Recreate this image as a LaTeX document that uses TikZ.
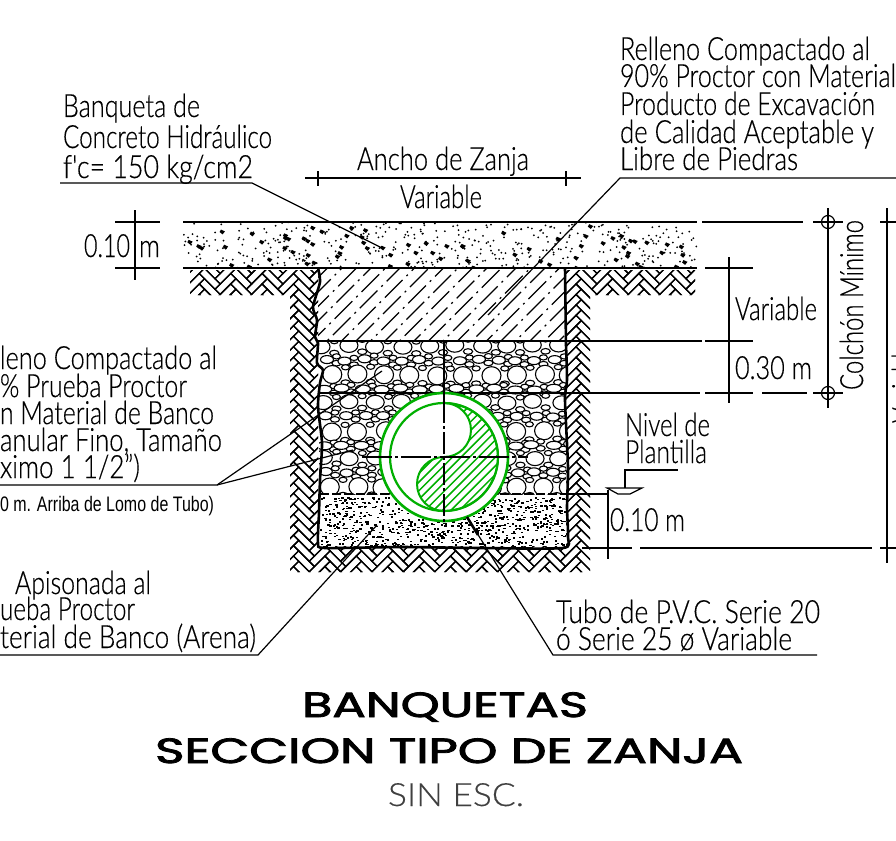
\documentclass[tikz,border=0pt]{standalone}
\usepackage{fontspec}
\usepackage{graphicx}
\setmainfont{Liberation Sans}
\newfontfamily\lightfont[FakeBold=0.4]{Lato Light}
\newfontfamily\titlefont[FakeBold=2.2]{Poppins}
\definecolor{pipegreen}{RGB}{0,175,0}
\newcommand{\cadfit}[2]{\resizebox{#1pt}{\height}{#2}}
\tikzset{
  cad/.style={inner sep=0pt,outer sep=0pt,anchor=base west,font=\lightfont\fontsize{32}{32}\selectfont,text=black},
  cadsmall/.style={inner sep=0pt,outer sep=0pt,anchor=base west,font=\fontsize{21}{21}\selectfont,text=black},
  titletext/.style={inner sep=0pt,outer sep=0pt,anchor=base west,font=\titlefont\fontsize{35}{35}\selectfont},
  thinl/.style={line width=1.2pt,black},
  thickl/.style={line width=2.6pt,black},
  medl/.style={line width=1.6pt,black},
  pebble/.style={draw=black,line width=1.1pt,fill=white},
}
\begin{document}
\begin{tikzpicture}[x=1pt,y=-1pt]
\useasboundingbox (0,0) rectangle (896,840);
\clip (0,0) rectangle (896,840);
\fill[white] (0,0) rectangle (896,840);
\pgfmathsetseed{4217}

% --- soil herringbone
\begin{scope}
\clip (190,270) rectangle (318,295) (290,270) rectangle (318,572)
      (290,546) rectangle (590,572) (566,270) rectangle (590,572) (566,270) rectangle (695,295);
\begin{scope}[shift={(440,420)},rotate=45,line width=1.3pt,x=7.4pt,y=7.4pt]
\foreach \r in {-52,...,52}{
  \foreach \k in {-17,...,17}{
    \pgfmathtruncatemacro{\cx}{\r+6*\k}
    \ifnum\cx>-53 \ifnum\cx<53
      \draw (\cx,\r) rectangle ++(3,1);
      \draw (\cx+3,\r-2) rectangle ++(1,3);
    \fi\fi
  }
}
\end{scope}
\end{scope}

% --- concrete slab stipple
\begin{scope}
\clip (183,222) rectangle (697,268);
\foreach \i in {1,...,430}{
  \pgfmathsetmacro{\px}{183+514*rnd}
  \pgfmathsetmacro{\py}{222+46*rnd}
  \fill[black] (\px,\py) circle (1pt);
}
\foreach \i in {1,...,75}{
  \pgfmathsetmacro{\px}{183+514*rnd}
  \pgfmathsetmacro{\py}{224+42*rnd}
  \fill[black] (\px,\py) -- ++(4,1.8) -- ++(-2.4,3) -- ++(-3,-2.4) -- cycle;
}
\end{scope}

% --- compacted fill hatch
\begin{scope}
\clip (318,268) rectangle (566,341);
\foreach \i in {0,...,24}{
  \pgfmathsetmacro{\sx}{236+14.5*\i}
  \pgfmathsetmacro{\ph}{mod(23*\i,38)}
  \draw[line width=1.2pt,dash pattern=on 25pt off 5.5pt on 2pt off 5.5pt,dash phase=\ph pt] (\sx,345) -- ++(80,-80);
}
\end{scope}

% --- gravel
\begin{scope}
\clip (319,341) rectangle (566,494);
\foreach \ry/\rw/\ra/\rb/\off in {346/26.5/7.5/7/0,360/19/5/4/4,375/26.5/8/9/9,389/19/6/4/2,402/26.5/7.5/7/0,416/19/5/4/4,431/26.5/8/9/9,445/19/6/4/2,458/26.5/7.5/7/0,472/19/5/4/4,487/26.5/8/9/9}{
  \foreach \c in {0,...,13}{
    \pgfmathsetmacro{\gx}{322+\off+\rw*\c+2*rand}
    \pgfmathsetmacro{\gy}{\ry+1.2*rand}
    \draw[pebble] (\gx+\rw/2,\gy+\rb*0.9) ellipse [x radius=4.6pt,y radius=2.8pt];
    \draw[pebble] (\gx+\rw/2,\gy-\rb*0.8) ellipse [x radius=4pt,y radius=2.6pt];
    \draw[pebble] (\gx,\gy) ellipse [x radius=\ra pt+1.5pt,y radius=\rb pt];
  }
}
\end{scope}

% --- sand
\begin{scope}
\clip (320,497) rectangle (566,546);
\foreach \i in {1,...,820}{
  \pgfmathsetmacro{\px}{320+246*rnd}
  \pgfmathsetmacro{\py}{497+49*rnd}
  \fill[black] (\px,\py) rectangle ++(2.2,1.5);
}
\end{scope}

% --- levels
\draw[medl] (183,222) -- (697,222);
\draw[medl] (183,268) -- (697,268);
\draw[thinl] (318,341) -- (702,341);
\draw[thinl] (318,393) -- (700,393);
\draw[thinl,dash pattern=on 9pt off 3pt] (320,494) -- (566,494);
\draw[thinl] (566,494) -- (608,494);

% --- trench outline
\draw[thickl] plot[smooth,tension=0.4] coordinates {(318,268)(320,282)(313,307)(317,320)(315,337)(318,343)(317,363)(323,370)(320,383)(318,407)(322,443)(320,480)(319,513)(318,543)(325,548)(400,547)(480,548)(563,548)(568,537)(567,507)(568,467)(565,400)(567,380)(566,345)};
\draw[thickl] (566,345) -- (565,268);

% --- pipe
\begin{scope}[shift={(444,457)},x=1pt,y=1pt]
  \fill[white] (0,0) circle (64pt);
  \begin{scope}
    \clip (0,54) arc[start angle=90,end angle=-90,radius=54pt]
          arc[start angle=270,end angle=90,radius=27pt]
          arc[start angle=-90,end angle=90,radius=27pt] -- cycle;
    \foreach \h in {-13,...,13}{
      \draw[pipegreen,line width=1.5pt] (-70+8.6*\h,-70) -- ++(140,140);
    }
  \end{scope}
  \draw[pipegreen,line width=2pt] (0,54) arc[start angle=90,end angle=-90,radius=54pt]
          arc[start angle=270,end angle=90,radius=27pt]
          arc[start angle=-90,end angle=90,radius=27pt] -- cycle;
  \draw[pipegreen,line width=2.2pt] (0,0) circle (54pt);
  \draw[pipegreen,line width=2.6pt] (0,0) circle (64pt);
\end{scope}

% --- centre lines
\draw[line width=1.6pt] (444,341) -- (444,401);
\draw[line width=1.6pt,dash pattern=on 22pt off 3pt on 3pt off 3pt] (444,401) -- (444,522);
\draw[line width=1.1pt,dash pattern=on 30pt off 3pt on 3pt off 3pt] (362,457) -- (528,457);

% --- dimension lines
\coordinate (dimA) at (305,178); \coordinate (dimB) at (581,178);
\draw[thinl] (dimA) -- (dimB);
\draw[thinl] (318,171) -- (318,186);
\draw[thinl] (566,171) -- (566,186);

\draw[thinl] (115,222) -- (160,222);
\draw[thinl] (115,268) -- (160,268);
\draw[thinl] (135,210) -- (135,280);

\draw[thinl] (702,222) -- (803,222);
\draw[thinl] (813,222) -- (843,222);
\draw[thinl] (705,268) -- (753,268);
\draw[thinl] (705,341) -- (753,341);
\draw[thinl] (705,393) -- (753,393);
\draw[thinl] (762,393) -- (807,393);
\draw[thinl] (813,393) -- (843,393);
\draw[thinl] (729,257) -- (729,403);
\draw[thinl] (828,208) -- (828,408);
\draw[thinl] (828,222) circle (6.5pt);
\draw[thinl] (828,393) circle (6.5pt);

\draw[thinl] (887,208) -- (887,563);
\draw[thinl] (880,222) -- (896,222);
\draw[thinl] (880,548) -- (896,548);

\draw[thinl] (582,548) -- (632,548);
\draw[thinl] (640,548) -- (872,548);
\draw[thinl] (608,490) -- (608,559);

% --- plantilla mark
\draw[thinl] (607,488) -- (642,488) -- (630,494) -- (618,494) -- cycle;
\draw[thinl] (625,488) -- (625,470) -- (678,470);

% --- leaders
\draw[thinl] (60,183) -- (252,183) -- (382,248);
\draw[thinl] (896,178) -- (620,178) -- (488,315);
\draw[thinl] (0,485) -- (217,485) -- (382,371);
\draw[thinl] (217,485) -- (353,450);
\draw[thinl] (0,655) -- (258,655) -- (377,525);
\draw[thinl] (817,655) -- (553,655) -- (467,517);
\draw[line width=2.6pt] (467,517) -- (478,535);

% --- labels
\node[cad] (t1) at (63,117) {\cadfit{137}{Banqueta de}};
\node[cad] (t2) at (63,148) {\cadfit{209}{Concreto Hidráulico}};
\node[cad] (t3) at (63,178) {\cadfit{190}{f'c= 150 kg/cm2}};

\node[cad] (r1) at (620,60) {\cadfit{250}{Relleno Compactado al}};
\node[cad] (r2) at (620,87) {\cadfit{276}{90\% Proctor con Material}};
\node[cad] (r3) at (620,115) {\cadfit{255}{Producto de Excavación}};
\node[cad] (r4) at (620,143) {\cadfit{254}{de Calidad Aceptable y}};
\node[cad] (r5) at (620,170) {\cadfit{178}{Libre de Piedras}};

\node[cad] (z1) at (357,170) {\cadfit{172}{Ancho de Zanja}};
\node[cad] (z2) at (400,208) {\cadfit{82}{Variable}};
\node[cad] (d1) at (84,257) {\cadfit{46}{0.10}};
\node[cad] (d2) at (139,257) {\cadfit{21}{m}};

\node[cad] (l1) at (0,369) {\cadfit{217}{leno Compactado al}};
\node[cad] (l2) at (0,397) {\cadfit{187}{\% Prueba Proctor}};
\node[cad] (l3) at (0,424) {\cadfit{214}{n Material de Banco}};
\node[cad] (l4) at (0,451) {\cadfit{222}{anular Fino, Tamaño}};
\node[cad] (l5) at (0,478) {\cadfit{140}{ximo 1 1/2”)}};
\node[cadsmall] (l6) at (0,511) {\cadfit{214}{0 m. Arriba de Lomo de Tubo)}};

\node[cad] (s1) at (15,594) {\cadfit{136}{Apisonada al}};
\node[cad] (s2) at (0,620) {\cadfit{135}{ueba Proctor}};
\node[cad] (s3) at (0,648) {\cadfit{256}{terial de Banco (Arena)}};

\node[cad] (p1) at (556,623) {\cadfit{264}{Tubo de P.V.C. Serie 20}};
\node[cad] (p2) at (556,650) {\cadfit{236}{ó Serie 25 ø Variable}};

\node[cad] (n1) at (625,436) {\cadfit{85}{Nivel de}};
\node[cad] (n2) at (625,463) {\cadfit{82}{Plantilla}};
\node[cad] (v1) at (735,320) {\cadfit{82}{Variable}};
\node[cad] (v2) at (735,379) {\cadfit{77}{0.30 m}};
\node[cad] (v3) at (610,531) {\cadfit{75}{0.10 m}};

\node[cad,rotate=90] (c1) at (863,390) {\cadfit{170}{Colchón Mínimo}};
\node[cad,rotate=90] (c2) at (915,423) {\cadfit{82}{Variable}};

\node[titletext] (title1) at (302,717) {\cadfit{286}{BANQUETAS}};
\node[titletext] (title2) at (155,763) {\cadfit{588}{SECCION TIPO DE ZANJA}};
\node[cad,text=black!75] (title3) at (388,806) {\cadfit{136}{SIN ESC.}};
\end{tikzpicture}
\end{document}
